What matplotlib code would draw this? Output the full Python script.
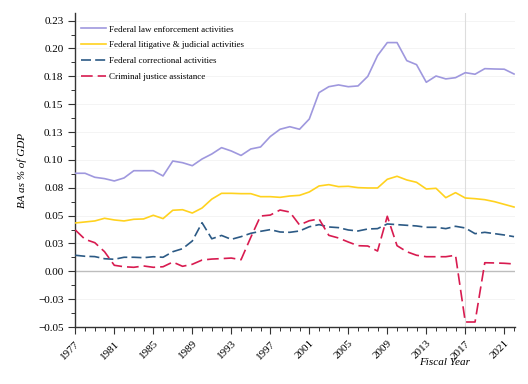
import matplotlib
matplotlib.use("Agg")
import matplotlib.pyplot as plt
from matplotlib.ticker import MultipleLocator
import numpy as np

# Datos (BA como % del PIB)
years = list(range(1977, 2023))

law_enforcement = [
    0.0880, 0.0880, 0.0844, 0.0832, 0.0811, 0.0838, 0.0903, 0.0903, 0.0903, 0.0856,
    0.0990, 0.0975, 0.0948, 0.1008, 0.1053, 0.1110, 0.1080, 0.1040, 0.1098, 0.1116,
    0.1210, 0.1275, 0.1298, 0.1275, 0.1367, 0.1604, 0.1657, 0.1673, 0.1657, 0.1664,
    0.1750, 0.1936, 0.2053, 0.2053, 0.1891, 0.1855, 0.1697, 0.1753, 0.1727, 0.1738,
    0.1783, 0.1769, 0.1819, 0.1816, 0.1814, 0.1771,
]
litigative = [
    0.0434, 0.0443, 0.0452, 0.0476, 0.0461, 0.0452, 0.0467, 0.0470, 0.0503, 0.0473,
    0.0548, 0.0553, 0.0523, 0.0568, 0.0648, 0.0700, 0.0700, 0.0697, 0.0697, 0.0670,
    0.0670, 0.0664, 0.0676, 0.0682, 0.0712, 0.0766, 0.0778, 0.0760, 0.0763, 0.0751,
    0.0748, 0.0748, 0.0826, 0.0853, 0.0820, 0.0799, 0.0739, 0.0745, 0.0661, 0.0706,
    0.0658, 0.0652, 0.0643, 0.0625, 0.0601, 0.0577,
]
correctional = [
    0.0144, 0.0135, 0.0132, 0.0113, 0.0108, 0.0126, 0.0126, 0.0122, 0.0131, 0.0126,
    0.0176, 0.0203, 0.0272, 0.0436, 0.0292, 0.0322, 0.0287, 0.0311, 0.0341, 0.0359,
    0.0374, 0.0353, 0.0350, 0.0362, 0.0400, 0.0419, 0.0398, 0.0392, 0.0371, 0.0362,
    0.0380, 0.0383, 0.0425, 0.0419, 0.0413, 0.0407, 0.0395, 0.0395, 0.0383, 0.0404,
    0.0389, 0.0338, 0.0350, 0.0338, 0.0326, 0.0311,
]
cj_assistance = [
    0.0371, 0.0287, 0.0257, 0.0176, 0.0054, 0.0041, 0.0036, 0.0048, 0.0036, 0.0041,
    0.0083, 0.0045, 0.0063, 0.0101, 0.0110, 0.0114, 0.0119, 0.0104, 0.0305, 0.0496,
    0.0505, 0.0550, 0.0532, 0.0416, 0.0454, 0.0470, 0.0323, 0.0299, 0.0263, 0.0230,
    0.0227, 0.0182, 0.0494, 0.0230, 0.0176, 0.0144, 0.0131, 0.0131, 0.0131, 0.0144,
    -0.0455, -0.0455, 0.0077, 0.0075, 0.0072, 0.0066,
]

labels = [
    'Federal law enforcement activities',
    'Federal litigative & judicial activities',
    'Federal correctional activities',
    'Criminal justice assistance',
]

ytick_vals = [-0.05, -0.025, 0.0, 0.025, 0.05, 0.075, 0.1, 0.125, 0.15, 0.175, 0.2, 0.225]
ytick_labels = ['\u22120.05', '\u22120.03', '0.00', '0.03', '0.05', '0.08',
                '0.10', '0.13', '0.15', '0.18', '0.20', '0.23']
xtick_vals = list(range(1977, 2022, 4))

plt.rcParams['font.family'] = ['Liberation Serif', 'DejaVu Serif']

fig = plt.figure(figsize=(5.28, 3.84), dpi=100)
ax = fig.add_axes([0.1426, 0.1484, 0.8328, 0.817])

# lineas de referencia
for v in ytick_vals:
    if v != 0.0:
        ax.axhline(v, color='#f2f2f2', lw=0.6, zorder=0)
ax.axhline(0, color='#bdbdbd', lw=1.0, zorder=1)
ax.axvline(2017, color='#dddddd', lw=0.8, zorder=1)

ax.plot(years, law_enforcement, color='#9f98de', lw=1.2, label=labels[0], zorder=3)
ax.plot(years, litigative, color='#ffd21f', lw=1.2, label=labels[1], zorder=3)
ax.plot(years, correctional, color='#2c5a85', lw=1.2, dashes=(6, 2.5), label=labels[2], zorder=3)
ax.plot(years, cj_assistance, color='#d81b50', lw=1.2, dashes=(7, 3), label=labels[3], zorder=3)

ax.set_xlim(1977, 2022.1)
ax.set_ylim(-0.05, 0.2316)

ax.set_yticks(ytick_vals)
ax.set_yticklabels(ytick_labels)
ax.yaxis.set_minor_locator(MultipleLocator(0.0125))
ax.set_xticks(xtick_vals)
ax.set_xticklabels([str(y) for y in xtick_vals], rotation=45, ha='right', rotation_mode='anchor')
ax.xaxis.set_minor_locator(MultipleLocator(1))

ax.tick_params(axis='both', which='major', length=5, width=0.8, labelsize=8, color='#333333')
ax.tick_params(axis='both', which='minor', length=3, width=0.7, color='#333333')

for s in ['top', 'right']:
    ax.spines[s].set_visible(False)
for s in ['left', 'bottom']:
    ax.spines[s].set_color('#333333')
    ax.spines[s].set_linewidth(1.0)

ax.set_ylabel('BA as % of GDP', fontsize=8, style='italic')
ax.yaxis.set_label_coords(-0.11, 0.5)
ax.set_xlabel('Fiscal Year', fontsize=8, style='italic')
ax.xaxis.set_label_coords(0.84, -0.098)

ax.legend(loc='upper left', frameon=False, fontsize=6.5, handlelength=2.75,
          handletextpad=0.4, labelspacing=0.82, borderaxespad=0.2,
          bbox_to_anchor=(0.0, 0.979))

fig.savefig('out.png', dpi=100)
